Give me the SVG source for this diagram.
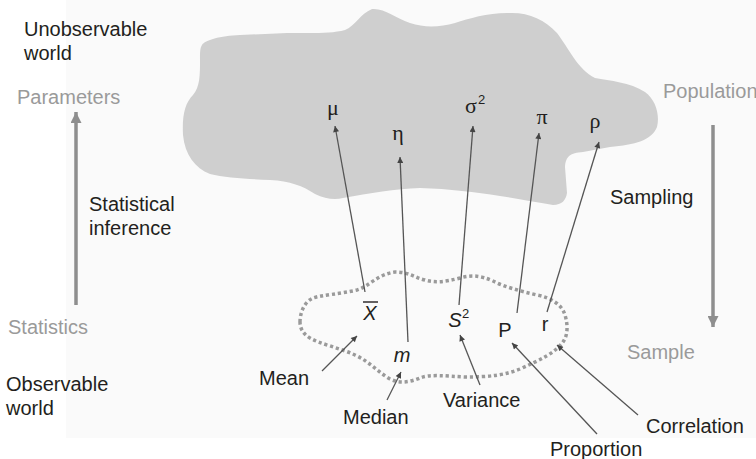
<svg xmlns="http://www.w3.org/2000/svg" width="756" height="459" viewBox="0 0 756 459">
  <defs>
    <style>
      .lbl { font-family: "Liberation Sans", Arial, sans-serif; font-size: 20px; fill: #231f20; }
      .dim { font-family: "Liberation Sans", Arial, sans-serif; font-size: 20px; fill: #9a9a9a; }
      .greek { font-family: "Liberation Serif", "Times New Roman", serif; font-size: 22px; fill: #231f20; text-anchor: middle; }
      .stat { font-family: "Liberation Sans", Arial, sans-serif; font-size: 20px; fill: #231f20; text-anchor: middle; }
      .sup { font-family: "Liberation Sans", Arial, sans-serif; font-size: 13px; fill: #231f20; }
      .thin { stroke: #555; stroke-width: 1.3; fill: none; marker-end: url(#tip); }
      .thick { stroke: #8e8e8e; stroke-width: 3.5; fill: none; marker-end: url(#bigtip); }
    </style>
    <marker id="tip" viewBox="0 0 10 10" refX="10" refY="5" markerUnits="userSpaceOnUse" markerWidth="8" markerHeight="6" orient="auto">
      <path d="M0,0 L10,5 L0,10 Z" fill="#444"/>
    </marker>
    <marker id="bigtip" viewBox="0 0 10 10" refX="10" refY="5" markerUnits="userSpaceOnUse" markerWidth="11" markerHeight="11" orient="auto">
      <path d="M0,0 L10,5 L0,10 Z" fill="#8e8e8e"/>
    </marker>
  </defs>

  <!-- page background panel -->
  <rect x="0" y="0" width="756" height="459" fill="#ffffff"/>
  <rect x="66" y="0" width="690" height="438" fill="#fafafa"/>

  <!-- population cloud -->
  <g id="population">
    <path d="M202,45 C205,40 220,36 240,35 L287,33 C310,33 330,34 345,30 C355,26 360,14 372,9 C385,8 395,18 410,23 C425,28 440,27 455,23 C470,18 490,12 512,13 C530,13 545,20 557,33 C568,47 578,70 595,78 C610,81 630,82 645,92 C656,100 660,115 657,127 C652,140 635,145 610,147 L583,152 C570,153 566,156 565,167 L567,193 C566,200 562,205 553,205 C535,202 520,199 500,196 C475,192 450,189 420,188 C395,189 370,193 343,198 C335,200 325,199 315,194 C303,186 290,181 270,180 C250,179 225,178 210,174 C195,168 185,155 183,135 C182,115 185,103 193,95 C200,87 200,75 200,60 C200,52 200,48 202,45 Z" fill="#cfcfcf"/>
  </g>

  <!-- sample outline -->
  <g id="sample">
    <path d="M300,322 C300,313 304,302 313,298 C322,295 340,294 357,290 C368,287 378,274 395,272 C410,272 415,278 425,280 C435,283 445,282 460,278 C470,275 480,275 493,281 C505,287 520,291 537,295 C552,298 562,305 565,315 C568,325 568,335 563,342 C555,353 540,360 520,369 C505,375 490,377 465,377 C445,376 430,374 420,378 C410,382 400,384 390,379 C378,372 370,362 355,355 C340,348 320,344 310,338 C303,334 300,328 300,322 Z" fill="none" stroke="#9a9a9a" stroke-width="3.5" stroke-dasharray="3.2 2.8"/>
  </g>

  <!-- parameters -->
  <g id="param-mu"><text class="greek" x="333" y="115">μ</text></g>
  <g id="param-eta"><text class="greek" x="398" y="140">η</text></g>
  <g id="param-sigma2"><text class="greek" x="471" y="113">σ</text><text class="sup" x="478" y="104">2</text></g>
  <g id="param-pi"><text class="greek" x="542" y="124">π</text></g>
  <g id="param-rho"><text class="greek" x="595" y="128">ρ</text></g>

  <!-- statistics -->
  <g id="stat-xbar">
    <text class="stat" x="370" y="320" font-style="italic">X</text>
    <line x1="363" y1="302" x2="378" y2="302" stroke="#231f20" stroke-width="1.4"/>
  </g>
  <g id="stat-m"><text class="stat" x="402" y="362" font-style="italic">m</text></g>
  <g id="stat-s2"><text class="stat" x="455" y="327" font-style="italic">S</text><text class="sup" x="462" y="318">2</text></g>
  <g id="stat-p"><text class="stat" x="505" y="337">P</text></g>
  <g id="stat-r"><text class="stat" x="545" y="331">r</text></g>

  <!-- side labels -->
  <g id="unobservable"><text class="lbl" x="24" y="36">Unobservable</text><text class="lbl" x="24" y="60">world</text></g>
  <g id="parameters-label"><text class="dim" x="17" y="104">Parameters</text></g>
  <g id="inference-label"><text class="lbl" x="89" y="211">Statistical</text><text class="lbl" x="89" y="235">inference</text></g>
  <g id="statistics-label"><text class="dim" x="8" y="334">Statistics</text></g>
  <g id="observable"><text class="lbl" x="6" y="391">Observable</text><text class="lbl" x="6" y="415">world</text></g>
  <g id="population-label"><text class="dim" x="663" y="98">Population</text></g>
  <g id="sampling-label"><text class="lbl" x="610" y="204">Sampling</text></g>
  <g id="sample-label"><text class="dim" x="627" y="359">Sample</text></g>

  <!-- statistic names -->
  <g id="mean-label"><text class="lbl" x="259" y="385">Mean</text></g>
  <g id="median-label"><text class="lbl" x="343" y="424">Median</text></g>
  <g id="variance-label"><text class="lbl" x="443" y="407">Variance</text></g>
  <g id="proportion-label"><text class="lbl" x="550" y="456">Proportion</text></g>
  <g id="correlation-label"><text class="lbl" x="646" y="433">Correlation</text></g>

  <!-- connectors -->
  <g id="connectors">
    <line class="thin" x1="365" y1="292" x2="335" y2="126"/>
    <line class="thin" x1="408" y1="342" x2="400" y2="157"/>
    <line class="thin" x1="459" y1="305" x2="473" y2="126"/>
    <line class="thin" x1="517" y1="313" x2="539" y2="133"/>
    <line class="thin" x1="547" y1="312" x2="599" y2="142"/>

    <line class="thin" x1="322" y1="371" x2="357" y2="336"/>
    <line class="thin" x1="387" y1="400" x2="401" y2="372"/>
    <line class="thin" x1="480" y1="385" x2="460" y2="335"/>
    <line class="thin" x1="597" y1="434" x2="512" y2="343"/>
    <line class="thin" x1="638" y1="415" x2="557" y2="345"/>

    <line class="thick" x1="76" y1="305" x2="76" y2="112"/>
    <line class="thick" x1="713" y1="125" x2="713" y2="327"/>
  </g>
</svg>
